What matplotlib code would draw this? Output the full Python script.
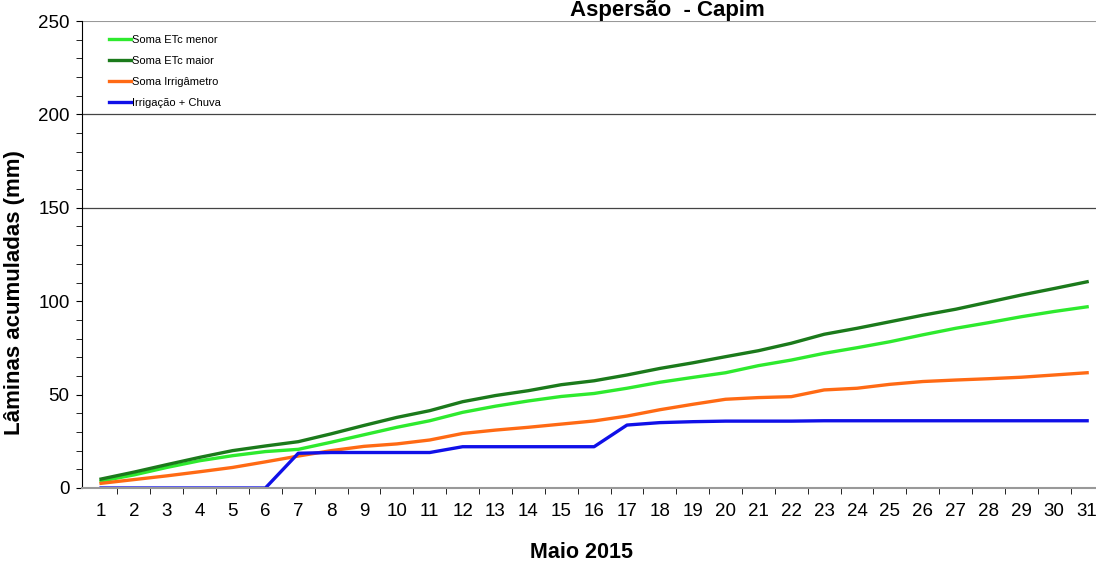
import matplotlib
matplotlib.use('Agg')
import matplotlib.pyplot as plt
import numpy as np

plt.rcParams['font.family'] = ['Liberation Sans', 'DejaVu Sans']

# dados
dias = list(range(1, 32))
etc_maior = [4.8, 8.5, 12.5, 16.4, 20, 22.5, 24.8, 29, 33.5, 37.8, 41.4, 46.2, 49.5, 52.1, 55.3, 57.4,
             60.5, 64, 67, 70.3, 73.5, 77.5, 82.3, 85.5, 89, 92.5, 95.7, 99.5, 103.3, 106.8, 110.4]
etc_menor = [3.7, 7, 11, 14.6, 17.3, 19.5, 20.7, 24.5, 28.5, 32.5, 36, 40.5, 43.8, 46.6, 49, 50.6,
             53.4, 56.6, 59.2, 61.7, 65.5, 68.5, 72.1, 75.1, 78.3, 82, 85.5, 88.5, 91.7, 94.5, 97]
irrigametro = [2.5, 4.5, 6.5, 8.7, 11, 14, 17.1, 20, 22.3, 23.6, 25.7, 29.2, 31, 32.5, 34.2, 35.9,
               38.5, 41.9, 44.8, 47.5, 48.4, 48.9, 52.5, 53.4, 55.5, 57, 57.8, 58.5, 59.3, 60.5, 61.7]
irrig_chuva = [0, 0, 0, 0, 0, 0, 18.6, 19, 19, 19, 19, 22.1, 22.1, 22.1, 22.1, 22.1,
               33.7, 35, 35.5, 35.8, 35.8, 35.8, 36, 36, 36, 36, 36, 36, 36, 36, 36]

fig = plt.figure(figsize=(10.96, 5.64), dpi=100)
ax = fig.add_axes([82 / 1096, 1 - 488 / 564, 1 - 82 / 1096, 467 / 564])

# linhas de grade
for yv in [150, 200]:
    ax.axhline(yv, color='#444444', lw=0.9, zorder=0)
ax.axhline(250, color='#999999', lw=1.5, zorder=0)

ax.plot(dias, etc_menor, color='#2EEA2E', lw=2.4, label='Soma ETc menor')
ax.plot(dias, etc_maior, color='#1B7A1B', lw=2.4, label='Soma ETc maior')
ax.plot(dias, irrigametro, color='#FF6A14', lw=2.4, label='Soma Irrigâmetro')
ax.plot(dias, irrig_chuva, color='#1010E8', lw=2.4, label='Irrigação + Chuva')

ax.set_xlim(0.42, 31.27)
ax.set_ylim(0, 250)
ax.set_xticks(dias)
ax.set_xticklabels([str(d) for d in dias], fontsize=13.5)
ax.set_xticks(np.arange(1.5, 31, 1), minor=True)
ax.tick_params(axis='x', which='major', length=0, pad=11)
ax.tick_params(axis='x', which='minor', length=4, direction='out', color='black')
ax.set_yticks([0, 50, 100, 150, 200, 250])
ax.set_yticks(np.arange(0, 251, 10), minor=True)
ax.tick_params(axis='y', which='both', length=4, direction='out', labelsize=13.5, pad=5)

for s in ['top', 'right']:
    ax.spines[s].set_visible(False)
ax.spines['bottom'].set_color('#999999')
ax.spines['bottom'].set_linewidth(1.5)
ax.spines['left'].set_color('black')

ax.set_ylabel('Lâminas acumuladas (mm)', fontsize=16, fontweight='bold')
ax.yaxis.set_label_coords(-0.056, 0.418)
fig.text(581 / 1096, 1 - 553 / 564, 'Maio 2015', fontsize=15.5, fontweight='bold', ha='center', va='center')
fig.text(667 / 1096, 1 - 16 / 564, 'Aspersão  - Capim', fontsize=16, fontweight='bold', ha='center', va='baseline')

leg = ax.legend(loc='upper left', bbox_to_anchor=(0.018, 0.99), frameon=False, fontsize=8,
                handlelength=2.0, handletextpad=0.1, labelspacing=1.0, borderpad=0.3)

fig.savefig('out.png', dpi=100)
